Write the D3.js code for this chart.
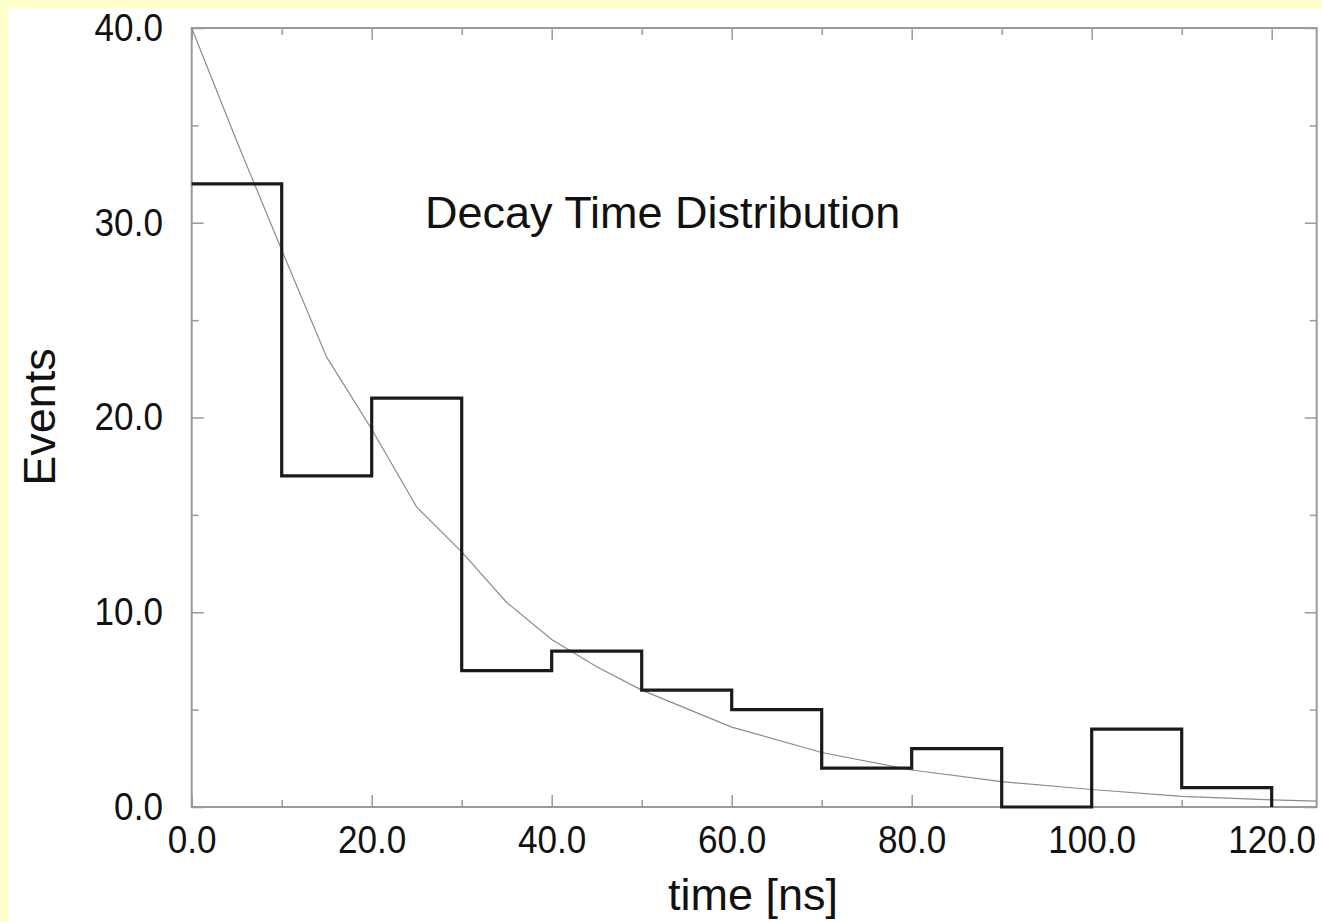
<!DOCTYPE html>
<html>
<head>
<meta charset="utf-8">
<script src="https://cdn.jsdelivr.net/npm/d3@7"></script>
<style>
  html, body { margin: 0; padding: 0; background: #ffffcc; }
  svg { display: block; }
  text { font-family: "Liberation Sans", Arial, sans-serif; fill: #111; }
</style>
</head>
<body>
<div class="chart"></div>
<script>
// histogram bins (left edge, width 10 ns) and counts
const binEdges = [0, 10, 20, 30, 40, 50, 60, 70, 80, 90, 100, 110, 120];
const binCounts = [32, 17, 21, 7, 8, 6, 5, 2, 3, 0, 4, 1];

// fitted curve
const curveT = [0, 5, 10, 15, 20, 25, 30, 35, 40, 45, 50, 60, 70, 80, 90, 100, 110, 120, 125];
const curveV = [40, 34.2, 28.6, 23.1, 19.4, 15.4, 13.1, 10.5, 8.6, 7.2, 6.0, 4.1, 2.8, 1.9, 1.3, 0.9, 0.55, 0.37, 0.3];

const xMajor = [0, 20, 40, 60, 80, 100, 120];
const xMinor = [10, 30, 50, 70, 90, 110];
const yMajor = [0, 10, 20, 30, 40];
const yMinor = [5, 15, 25, 35];

const w = 1322;
const h = 922;
const padL = 191.7, padR = 1316.7, padT = 28, padB = 807;

const svg = d3.select('.chart')
    .append('svg')
    .attr('width', w)
    .attr('height', h);

svg.append('rect')
    .attr('x', 8).attr('y', 8)
    .attr('width', w - 8).attr('height', h - 8)
    .attr('fill', '#fff');

const x = d3.scaleLinear().domain([0, 125]).range([padL, padR]);
const y = d3.scaleLinear().domain([0, 40]).range([padB, padT]);

const fmt = d3.format('.1f');
const axisColor = '#9a9a9a';

function styleAxis(g) {
    g.select('.domain').remove();
    g.selectAll('.tick line').attr('stroke', axisColor).attr('stroke-width', 1.5);
    // labels in the source are a little narrow and tall
    g.selectAll('.tick text')
        .style('font-family', '"Liberation Sans", Arial, sans-serif')
        .style('font-size', '39px')
        .attr('transform', 'scale(0.9,1)')
        .attr('fill', '#111');
}

// bottom
svg.append('g').attr('transform', 'translate(0,' + padB + ')')
    .call(d3.axisBottom(x).tickValues(xMajor).tickSize(-12).tickPadding(18).tickFormat(fmt))
    .call(styleAxis);
svg.append('g').attr('transform', 'translate(0,' + padB + ')')
    .call(d3.axisBottom(x).tickValues(xMinor).tickSize(-7).tickFormat(''))
    .call(styleAxis);
// top
svg.append('g').attr('transform', 'translate(0,' + padT + ')')
    .call(d3.axisTop(x).tickValues(xMajor).tickSize(-12).tickFormat(''))
    .call(styleAxis);
svg.append('g').attr('transform', 'translate(0,' + padT + ')')
    .call(d3.axisTop(x).tickValues(xMinor).tickSize(-7).tickFormat(''))
    .call(styleAxis);
// left
svg.append('g').attr('transform', 'translate(' + padL + ',0)')
    .call(d3.axisLeft(y).tickValues(yMajor).tickSize(-12).tickPadding(32).tickFormat(fmt))
    .call(styleAxis);
svg.append('g').attr('transform', 'translate(' + padL + ',0)')
    .call(d3.axisLeft(y).tickValues(yMinor).tickSize(-7).tickFormat(''))
    .call(styleAxis);
// right
svg.append('g').attr('transform', 'translate(' + padR + ',0)')
    .call(d3.axisRight(y).tickValues(yMajor).tickSize(-12).tickFormat(''))
    .call(styleAxis);
svg.append('g').attr('transform', 'translate(' + padR + ',0)')
    .call(d3.axisRight(y).tickValues(yMinor).tickSize(-7).tickFormat(''))
    .call(styleAxis);

// frame
svg.append('rect')
    .attr('x', padL).attr('y', padT)
    .attr('width', padR - padL).attr('height', padB - padT)
    .attr('fill', 'none')
    .attr('stroke', axisColor)
    .attr('stroke-width', 2);

// curve
const curvePts = curveT.map((t, i) => [t, curveV[i]]);
svg.append('path')
    .datum(curvePts)
    .attr('fill', 'none')
    .attr('stroke', '#8c8c8c')
    .attr('stroke-width', 1.2)
    .attr('d', d3.line().x(d => x(d[0])).y(d => y(d[1])));

// histogram step line
const histPts = binEdges.map((e, i) => [e, i < binCounts.length ? binCounts[i] : 0]);
svg.append('path')
    .datum(histPts)
    .attr('fill', 'none')
    .attr('stroke', '#1a1a1a')
    .attr('stroke-width', 3.2)
    .attr('d', d3.line().curve(d3.curveStepAfter).x(d => x(d[0])).y(d => y(d[1])));

// labels
svg.append('text')
    .attr('x', 425).attr('y', 228)
    .style('font-size', '45px')
    .text('Decay Time Distribution');

svg.append('text')
    .attr('transform', 'translate(55,417) rotate(-90)')
    .attr('text-anchor', 'middle')
    .style('font-size', '45px')
    .text('Events');

svg.append('text')
    .attr('x', 753).attr('y', 910)
    .attr('text-anchor', 'middle')
    .style('font-size', '45px')
    .text('time [ns]');
</script>
</body>
</html>
